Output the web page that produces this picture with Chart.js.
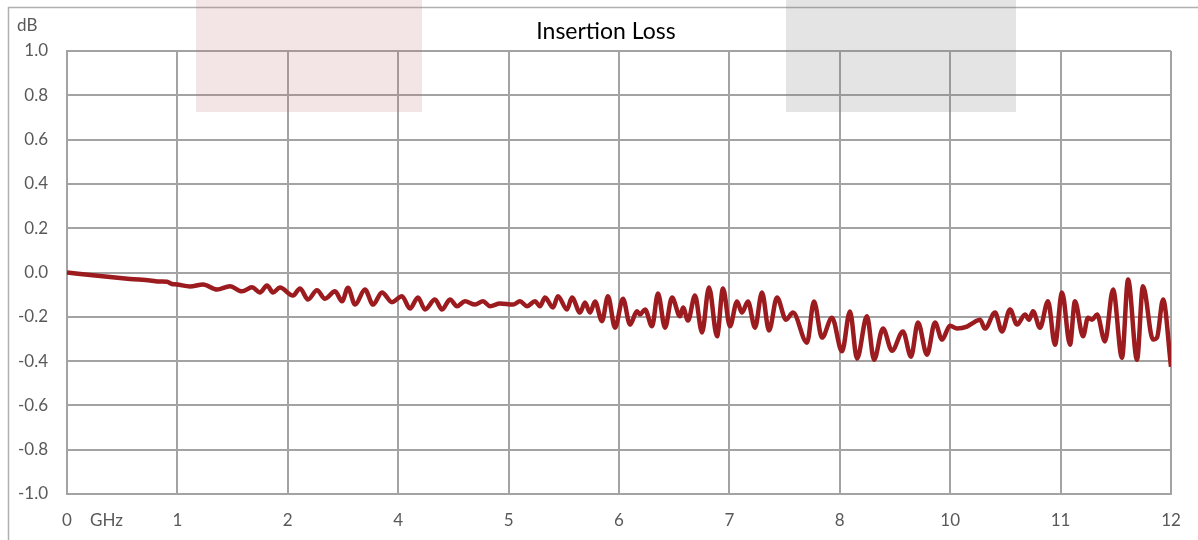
<!DOCTYPE html>
<html>
<head>
<meta charset="utf-8">
<script src="https://cdn.jsdelivr.net/npm/chart.js@4/dist/chart.umd.min.js"></script>
<style>
html,body{margin:0;padding:0;background:#fff;}
canvas{display:block;}
</style>
</head>
<body>
<canvas id="c" width="1198" height="540"></canvas>
<script>
const chartTitle = 'Insertion Loss';
const yUnit = 'dB';
const xUnit = 'GHz';
const xTickLabels = ['0','1','2','4','5','6','7','8','10','11','12'];
const yTicks = [-1.0,-0.8,-0.6,-0.4,-0.2,0.0,0.2,0.4,0.6,0.8,1.0];

// x positions along the axis (tick index units) and insertion-loss values in dB
const xPos = [
0,0.299,0.571,0.752,0.842,0.906,0.951,0.996,1.114,1.232,1.359,1.476,1.585,1.676,1.748,1.812,1.866,1.929,
2.047,2.111,2.183,2.264,2.337,2.428,2.491,2.545,2.609,2.699,2.772,2.853,2.944,
3.034,3.107,3.179,3.243,3.333,3.397,3.469,3.533,3.605,3.696,3.768,3.832,3.922,
4.040,4.103,4.167,4.239,4.284,4.330,4.402,4.447,4.529,4.574,4.647,4.692,4.737,4.783,4.846,4.900,4.964,
5.036,5.100,5.163,5.190,5.236,5.299,5.353,5.417,5.480,5.553,5.580,5.625,5.688,5.752,5.815,5.888,5.942,
6.005,6.069,6.114,6.168,6.232,6.295,6.359,6.431,6.513,6.576,6.703,6.766,6.839,6.929,
7.020,7.092,7.156,7.246,7.310,7.391,7.473,7.572,7.645,7.708,7.790,7.862,7.926,7.998,
8.062,8.152,8.225,8.270,8.315,8.406,8.469,8.542,8.605,8.678,8.714,8.750,8.813,8.886,8.949,
9.013,9.085,9.130,9.203,9.248,9.284,9.330,9.402,9.475,9.556,9.611,9.692,9.746,9.837,9.873,9.928,10.0
];
const lossDb = [
0,-0.016,-0.029,-0.036,-0.041,-0.042,-0.052,-0.054,-0.063,-0.054,-0.077,-0.062,-0.085,-0.067,-0.090,-0.059,-0.090,-0.068,
-0.104,-0.072,-0.122,-0.080,-0.118,-0.085,-0.130,-0.069,-0.145,-0.077,-0.145,-0.090,-0.134,
-0.107,-0.163,-0.113,-0.167,-0.122,-0.167,-0.122,-0.152,-0.130,-0.145,-0.130,-0.152,-0.140,
-0.145,-0.130,-0.152,-0.130,-0.152,-0.113,-0.158,-0.107,-0.167,-0.113,-0.181,-0.136,-0.181,-0.131,-0.220,-0.107,-0.249,
-0.118,-0.235,-0.175,-0.190,-0.167,-0.243,-0.095,-0.249,-0.113,-0.198,-0.158,-0.217,-0.104,-0.271,-0.068,-0.288,-0.072,
-0.243,-0.131,-0.181,-0.131,-0.249,-0.090,-0.262,-0.113,-0.213,-0.181,-0.317,-0.131,-0.294,-0.204,
-0.356,-0.176,-0.389,-0.198,-0.394,-0.253,-0.353,-0.266,-0.380,-0.226,-0.371,-0.226,-0.303,-0.240,
-0.253,-0.244,-0.222,-0.213,-0.253,-0.181,-0.266,-0.167,-0.235,-0.190,-0.213,-0.175,-0.249,-0.130,-0.326,
-0.090,-0.326,-0.130,-0.288,-0.204,-0.213,-0.190,-0.311,-0.077,-0.385,-0.032,-0.394,-0.062,-0.303,-0.294,-0.122,-0.425
];

const points = xPos.map((x, i) => ({x: x, y: lossDb[i]}));

const FONT = 'Lato, "Open Sans", sans-serif';
const TEXT = '#595959';
const GRID = '#a3a3a3';

const decor = {
  id: 'decor',
  beforeDraw(chart) {
    const ctx = chart.ctx;
    ctx.save();
    ctx.fillStyle = '#ffffff';
    ctx.fillRect(0, 0, chart.width, chart.height);
    ctx.strokeStyle = '#b0b0b0';
    ctx.lineWidth = 1.5;
    ctx.beginPath();
    ctx.moveTo(8.5, 540);
    ctx.lineTo(8.5, 7.5);
    ctx.lineTo(1198, 7.5);
    ctx.stroke();
    ctx.restore();
  },
  afterDraw(chart) {
    const ctx = chart.ctx;
    ctx.save();
    ctx.fillStyle = '#000000';
    ctx.font = '23px ' + FONT;
    ctx.textAlign = 'center';
    ctx.textBaseline = 'middle';
    ctx.fillText(chartTitle, 606, 32);
    ctx.fillStyle = TEXT;
    ctx.font = '17px ' + FONT;
    ctx.textAlign = 'left';
    ctx.fillText(yUnit, 17, 26);
    ctx.fillText(xUnit, 90, 521);
    ctx.fillStyle = 'rgba(190,110,110,0.18)';
    ctx.fillRect(196, 0, 226, 112);
    ctx.fillStyle = 'rgba(120,120,120,0.2)';
    ctx.fillRect(786, 0, 230, 112);
    ctx.restore();
  }
};

new Chart(document.getElementById('c'), {
  type: 'line',
  data: {
    datasets: [{
      data: points,
      borderColor: '#9b1b1f',
      borderWidth: 4.5,
      pointRadius: 0,
      fill: false,
      cubicInterpolationMode: 'monotone'
    }]
  },
  options: {
    responsive: false,
    animation: false,
    devicePixelRatio: 1,
    layout: {padding: {left: 0, right: 27, top: 51, bottom: 14}},
    plugins: {legend: {display: false}, tooltip: {enabled: false}, title: {display: false}},
    scales: {
      x: {
        type: 'linear', min: 0, max: 10,
        afterBuildTicks(s) { s.ticks = xTickLabels.map((_, i) => ({value: i})); },
        afterFit(s) { s.height = 32; },
        grid: {color: GRID, lineWidth: 2, drawTicks: false},
        border: {color: GRID, width: 2},
        ticks: {
          autoSkip: false, maxRotation: 0, padding: 16, color: TEXT,
          font: {family: FONT, size: 17},
          callback: (v) => xTickLabels[Math.round(v)]
        }
      },
      y: {
        min: -1, max: 1,
        afterBuildTicks(s) { s.ticks = yTicks.map(v => ({value: v})); },
        afterFit(s) { s.width = 67; },
        grid: {color: GRID, lineWidth: 2, drawTicks: false},
        border: {color: GRID, width: 2},
        ticks: {
          padding: 19, color: TEXT,
          font: {family: FONT, size: 17},
          callback: (v) => v.toFixed(1)
        }
      }
    }
  },
  plugins: [decor]
});
</script>
</body>
</html>
